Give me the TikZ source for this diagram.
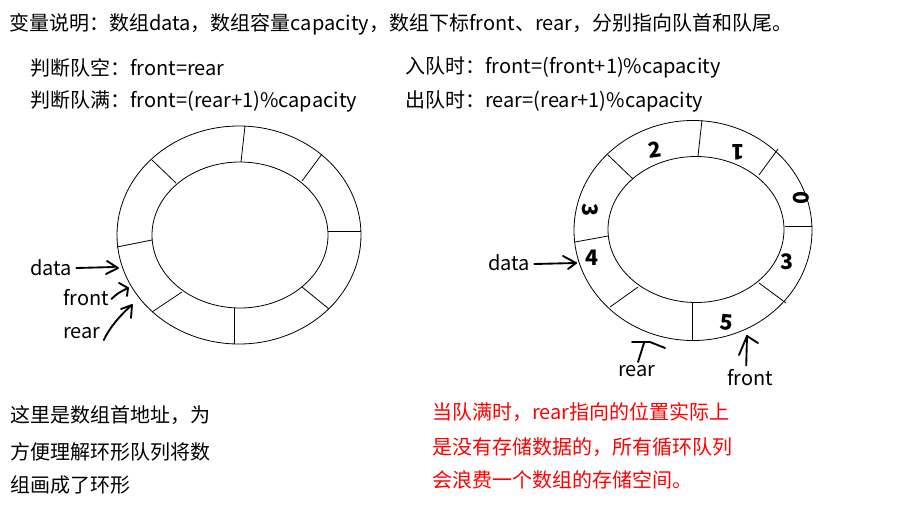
\documentclass[tikz,border=0pt]{standalone}
\usepackage{fontspec}
\setmainfont{Noto Sans CJK SC}
\usetikzlibrary{arrows.meta}
\begin{document}
\begin{tikzpicture}[x=0.75pt,y=-0.75pt,
  txt/.style={anchor=west,inner sep=0pt,font=\fontsize{15pt}{17pt}\selectfont},
  redtxt/.style={txt,text=red},
  ring/.style={draw=black,line width=0.6pt},
  spoke/.style={draw=black,line width=0.6pt},
  hand/.style={draw=black,line width=1.4pt,line cap=round,line join=round},
  digit/.style={inner sep=0pt,font=\fontsize{16pt}{17pt}\selectfont\bfseries}]
\useasboundingbox[fill=white] (0,0) rectangle (901,529);

% header texts
\node[txt] (title) at (9,24) {变量说明：数组data，数组容量capacity，数组下标front、rear，分别指向队首和队尾。};
\node[txt] (empty) at (30,68) {判断队空：front=rear};
\node[txt] (full) at (30,101) {判断队满：front=(rear+1)\%capacity};
\node[txt] (enq) at (405,67) {入队时：front=(front+1)\%capacity};
\node[txt] (deq) at (405,101) {出队时：rear=(rear+1)\%capacity};

% left ring
\draw[ring] (239,235) ellipse [x radius=122, y radius=109];
\draw[ring] (240,235) ellipse [x radius=88, y radius=73];
\draw[spoke] (245,126) -- (241,162);
\draw[spoke] (322,154) -- (302,181);
\draw[spoke] (361,231) -- (328,231);
\draw[spoke] (329,309) -- (302,287);
\draw[spoke] (234,344) -- (234,308);
\draw[spoke] (152,312) -- (182,292);
\draw[spoke] (117,247) -- (152,240);
\draw[spoke] (152,160) -- (176,183);

% left labels
\node[txt] (ldata) at (30,268) {data};
\node[txt] (lfront) at (63,298) {front};
\node[txt] (lrear) at (63,333) {rear};
\coordinate (ldataT) at (118,268);
\coordinate (lfrontT) at (128,288);
\coordinate (lrearT) at (132,305);
\draw[hand] (ldata.east) ++(4,0) -- ++(38,-1);
\draw[hand] (107,261) -- (ldataT) -- (106,274);
\draw[hand] (lfront.east) ++(2,1) .. controls (118,293) .. (lfrontT);
\draw[hand] (119,283) -- (lfrontT) -- (127,296);
\draw[hand] (lrear.east) ++(3,7) .. controls (108,330) and (120,315) .. (lrearT);
\draw[hand] (121,309) -- (lrearT) -- (131,318);

% bottom-left text
\node[txt] (n1) at (10,415) {这里是数组首地址，为};
\node[txt] (n2) at (10,452) {方便理解环形队列将数};
\node[txt] (n3) at (10,485) {组画成了环形};

% right ring
\draw[ring] (693,230.5) ellipse [x radius=119, y radius=110];
\draw[ring] (696,229.5) ellipse [x radius=88, y radius=73];
\draw[spoke] (702,120) -- (698,156);
\draw[spoke] (778,149) -- (759,175);
\draw[spoke] (812,226) -- (785,226);
\draw[spoke] (786,303) -- (759,283);
\draw[spoke] (692,340) -- (692,303);
\draw[spoke] (610,307) -- (638,287);
\draw[spoke] (575,242) -- (608,236);
\draw[spoke] (608,155) -- (633,179);

% handwritten digits
\node[digit,rotate=8] (d2) at (655,150) {2};
\node[digit,rotate=180] (d1) at (738,152) {1};
\node[digit,rotate=-90] (d0) at (801,198) {0};
\node[digit] (d3b) at (787,262) {3};
\node[digit,rotate=-5] (d5) at (727,322) {5};
\node[digit] (d4) at (592,258) {4};
\node[digit,rotate=-90] (d3a) at (590,210) {3};

% right labels
\node[txt] (rdata) at (488,263) {data};
\node[txt] (rrear) at (618,371) {rear};
\node[txt] (rfront) at (727,378) {front};
\coordinate (rdataT) at (576,263);
\draw[hand] (rdata.east) ++(4,1) -- (rdataT);
\draw[hand] (563,256) -- (rdataT) -- (568,269);
\coordinate (rrearA) at (632,342);
\coordinate (rrearB) at (665,348);
\draw[hand] (rrearA) -- (650,342) -- (rrearB);
\draw[hand] (644,343) -- (638,362);
\coordinate (rfrontT) at (747,336);
\draw[hand] (rfront.north) ++(-4,-4) -- (rfrontT);
\draw[hand] (739,355) -- (rfrontT) -- (758,343);

% red note
\node[redtxt] (r1) at (432,412) {当队满时，rear指向的位置实际上};
\node[redtxt] (r2) at (432,447) {是没有存储数据的，所有循环队列};
\node[redtxt] (r3) at (432,480) {会浪费一个数组的存储空间。};
\end{tikzpicture}
\end{document}
